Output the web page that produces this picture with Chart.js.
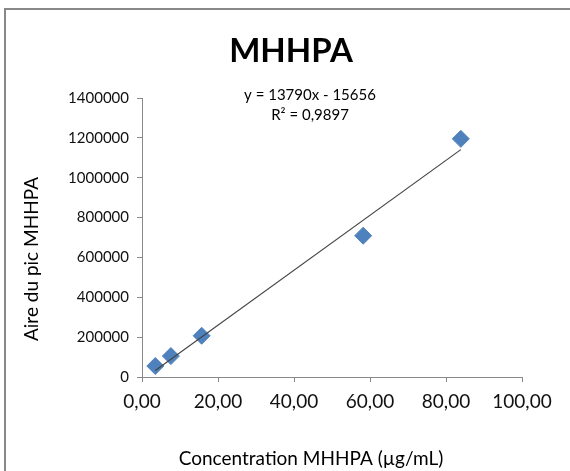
<!DOCTYPE html>
<html>
<head>
<meta charset="utf-8">
<script src="https://cdn.jsdelivr.net/npm/chart.js@4.4.1/dist/chart.umd.min.js"></script>
<style>
  html, body { margin: 0; padding: 0; background: #fff; }
  #wrap { position: relative; width: 570px; height: 471px; }
  #frame {
    position: absolute; left: 4px; top: 8px; right: -4px; bottom: -4px;
    border-left: 2px solid #888; border-top: 2px solid #888;
    pointer-events: none;
  }
</style>
</head>
<body>
<div id="wrap">
  <canvas id="scatterChart"></canvas>
  <div id="frame"></div>
</div>
<script>
// values
var concentration = [3.5, 7.6, 15.7, 58.2, 83.9];
var aire = [55000, 105000, 207000, 709000, 1195000];

// linear trend line end points
var trendX = [3.5, 83.9];
var trendY = [33000, 1141000];

var xTickLabels = ['0,00', '20,00', '40,00', '60,00', '80,00', '100,00'];
var yTickLabels = ['0', '200000', '400000', '600000', '800000', '1000000', '1200000', '1400000'];

var chartTitle = 'MHHPA';
var equation = ['y = 13790x - 15656', 'R\u00b2 = 0,9897'];
var xTitle = 'Concentration MHHPA (\u00b5g/mL)';
var yTitle = 'Aire du pic MHHPA';

var font = 'Lato, "Open Sans", sans-serif';

function toPoints(xs, ys) {
    return xs.map(function (x, i) { return { x: x, y: ys[i] }; });
}

// titles and trend line label, drawn like Excel places them
var textPlugin = {
    id: 'texts',
    afterDraw: function (chart) {
        var ctx = chart.ctx;
        ctx.save();
        ctx.fillStyle = '#000';
        ctx.textAlign = 'center';
        ctx.textBaseline = 'middle';

        ctx.font = 'bold 33px ' + font;
        ctx.fillText(chartTitle, 291, 51);

        ctx.font = '15px ' + font;
        ctx.fillText(equation[0], 310, 95);
        ctx.fillText(equation[1], 310, 115);

        ctx.font = '19px ' + font;
        ctx.fillText(xTitle, 311, 459);

        ctx.translate(32, 259);
        ctx.rotate(-Math.PI / 2);
        ctx.fillText(yTitle, 0, 0);
        ctx.restore();
    }
};

var scatter = new Chart(document.getElementById('scatterChart'), {
    type: 'scatter',
    data: {
        datasets: [{
            label: 'MHHPA',
            data: toPoints(concentration, aire),
            pointStyle: 'rectRot',
            pointRadius: 8.5,
            pointHoverRadius: 8.5,
            backgroundColor: '#4f81bd',
            borderColor: '#4f81bd',
            borderWidth: 1,
            order: 2
        }, {
            label: 'Linéaire (MHHPA)',
            type: 'line',
            data: toPoints(trendX, trendY),
            borderColor: '#444',
            borderWidth: 1.2,
            pointRadius: 0,
            fill: false,
            order: 1
        }]
    },
    plugins: [textPlugin],
    options: {
        responsive: true,
        maintainAspectRatio: false,
        animation: false,
        layout: {
            padding: { left: 0, top: 98, right: 48, bottom: 54 }
        },
        plugins: {
            legend: { display: false },
            title: { display: false },
            tooltip: { enabled: false }
        },
        scales: {
            x: {
                type: 'linear',
                min: 0,
                max: 100,
                afterFit: function (scale) { scale.height = 40; },
                ticks: {
                    stepSize: 20,
                    padding: 8,
                    color: '#111',
                    font: { family: font, size: 19 },
                    maxRotation: 0,
                    callback: function (value, index) { return xTickLabels[index]; }
                },
                grid: {
                    drawOnChartArea: false,
                    drawTicks: true,
                    tickLength: 5,
                    color: '#888'
                },
                border: { display: true, color: '#888', width: 1 }
            },
            y: {
                type: 'linear',
                min: 0,
                max: 1400000,
                afterFit: function (scale) { scale.width = 142; },
                ticks: {
                    stepSize: 200000,
                    padding: 8,
                    color: '#111',
                    font: { family: font, size: 15 },
                    callback: function (value, index) { return yTickLabels[index]; }
                },
                grid: {
                    drawOnChartArea: false,
                    drawTicks: true,
                    tickLength: 5,
                    color: '#888'
                },
                border: { display: true, color: '#888', width: 1 }
            }
        }
    }
});
</script>
</body>
</html>
